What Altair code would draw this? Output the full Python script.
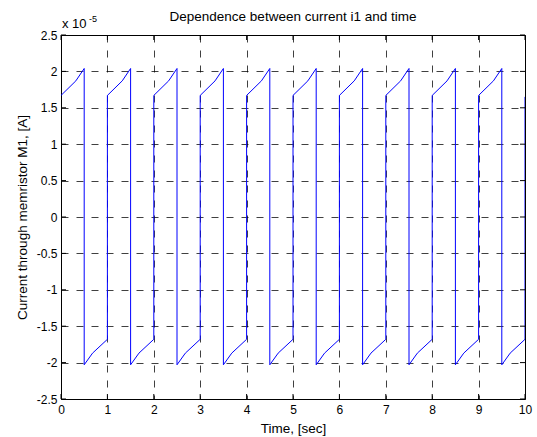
import altair as alt
import pandas as pd

# Time samples [s] and current through memristor M1 (in units of 1e-5 A)
time_s = [
    0, 0.32, 0.5, 0.5, 0.68, 1,
    1, 1.32, 1.5, 1.5, 1.68, 2,
    2, 2.32, 2.5, 2.5, 2.68, 3,
    3, 3.32, 3.5, 3.5, 3.68, 4,
    4, 4.32, 4.5, 4.5, 4.68, 5,
    5, 5.32, 5.5, 5.5, 5.68, 6,
    6, 6.32, 6.5, 6.5, 6.68, 7,
    7, 7.32, 7.5, 7.5, 7.68, 8,
    8, 8.32, 8.5, 8.5, 8.68, 9,
    9, 9.32, 9.5, 9.5, 9.68, 10,
    10,
]
current_e5 = [
    1.67, 1.87, 2.04, -2.03, -1.87, -1.68,
    1.67, 1.87, 2.04, -2.03, -1.87, -1.68,
    1.67, 1.87, 2.04, -2.03, -1.87, -1.68,
    1.67, 1.87, 2.04, -2.03, -1.87, -1.68,
    1.67, 1.87, 2.04, -2.03, -1.87, -1.68,
    1.67, 1.87, 2.04, -2.03, -1.87, -1.68,
    1.67, 1.87, 2.04, -2.03, -1.87, -1.68,
    1.67, 1.87, 2.04, -2.03, -1.87, -1.68,
    1.67, 1.87, 2.04, -2.03, -1.87, -1.68,
    1.67, 1.87, 2.04, -2.03, -1.87, -1.68,
    1.65,
]
x_ticks = [0, 1, 2, 3, 4, 5, 6, 7, 8, 9, 10]
y_ticks = [-2.5, -2, -1.5, -1, -0.5, 0, 0.5, 1, 1.5, 2, 2.5]
title_text = "Dependence between current i1 and time"
x_title = "Time, [sec]"
y_title = "Current through memristor M1, [A]"

W, H = 464, 364
FONT = "Liberation Sans"
LBL = 12
TTL = 13.5

df = pd.DataFrame({"t": time_s, "i": current_e5, "order": list(range(len(time_s)))})
xt = pd.DataFrame({"v": x_ticks})
yt = pd.DataFrame({"v": y_ticks})

xscale = alt.Scale(domain=[0, 10], nice=False, zero=False)
yscale = alt.Scale(domain=[-2.5, 2.5], nice=False, zero=False)

line = alt.Chart(df).mark_line(color="#0000ff", strokeWidth=1, clip=True).encode(
    x=alt.X("t:Q", scale=xscale, axis=alt.Axis(
        values=x_ticks, tickCount=30, title=x_title, grid=True, gridDash=[7, 8],
        gridColor="#000000", gridOpacity=0.75, tickSize=0, domain=False,
        labelOverlap=False, labelBound=False, labelFlush=False,
        labelExpr="toString(datum.value)",
        labelPadding=5, labelFontSize=LBL, labelFont=FONT, labelColor="#000",
        titleFontSize=TTL, titleFont=FONT, titleFontWeight="normal", titleColor="#000",
        titleY=29, titleBaseline="middle")),
    y=alt.Y("i:Q", scale=yscale, axis=alt.Axis(
        values=y_ticks, tickCount=30, title=y_title, grid=True,
        gridDash=[7, 8], gridColor="#000000", gridOpacity=0.75, tickSize=0,
        domain=False, labelPadding=4, labelFontSize=LBL, labelFont=FONT,
        labelOverlap=False, labelBound=False, labelFlush=False,
        labelColor="#000", labelExpr="toString(datum.value)",
        titleFontSize=TTL, titleFont=FONT, titleFontWeight="normal", titleColor="#000",
        titleX=-39, titleBaseline="middle")),
    order="order:Q",
)

left_ticks = alt.Chart(yt).mark_rule(color="#000", strokeWidth=1).encode(
    y=alt.Y("v:Q", scale=yscale), x=alt.value(0), x2=alt.value(5))
right_ticks = alt.Chart(yt).mark_rule(color="#000", strokeWidth=1).encode(
    y=alt.Y("v:Q", scale=yscale), x=alt.value(W - 5), x2=alt.value(W))
bottom_ticks = alt.Chart(xt).mark_rule(color="#000", strokeWidth=1).encode(
    x=alt.X("v:Q", scale=xscale), y=alt.value(H), y2=alt.value(H - 5))
top_ticks = alt.Chart(xt).mark_rule(color="#000", strokeWidth=1).encode(
    x=alt.X("v:Q", scale=xscale), y=alt.value(0), y2=alt.value(5))

one = pd.DataFrame({"a": [0]})
exp_base = alt.Chart(one).mark_text(
    text="x 10", font=FONT, fontSize=13, align="left", baseline="alphabetic", color="#000"
).encode(x=alt.value(1), y=alt.value(-7))
exp_sup = alt.Chart(one).mark_text(
    text="-5", font=FONT, fontSize=9, align="left", baseline="alphabetic", color="#000"
).encode(x=alt.value(28), y=alt.value(-13))
title_mark = alt.Chart(one).mark_text(
    text=title_text, font=FONT, fontSize=TTL, align="center", baseline="alphabetic",
    color="#000"
).encode(x=alt.value(W / 2), y=alt.value(-14))

chart = alt.layer(
    line, left_ticks, right_ticks, bottom_ticks, top_ticks, exp_base, exp_sup, title_mark
).properties(
    width=W,
    height=H,
    autosize=alt.AutoSizeParams(type="none"),
    padding={"left": 61, "top": 35, "right": 12, "bottom": 38},
    background="#ffffff",
).configure_view(stroke="#000000", strokeWidth=1)

chart.save("out.html", embed_options={"renderer": "svg", "actions": False})
